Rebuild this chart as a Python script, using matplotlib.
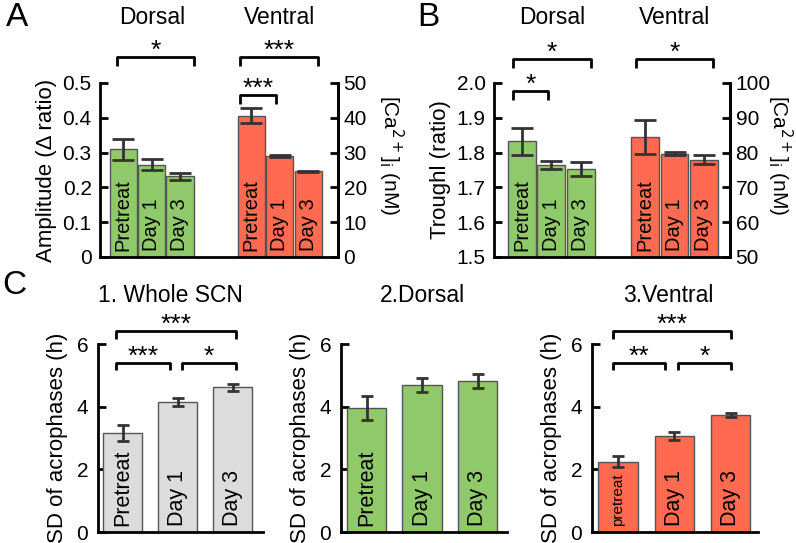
import numpy as np
import matplotlib.pyplot as plt

plt.rcParams['font.family'] = ['Liberation Sans', 'DejaVu Sans']

# data
groups = ['Pretreat', 'Day 1', 'Day 3']

amp_dorsal = [0.310, 0.265, 0.232]
amp_dorsal_err = [0.030, 0.016, 0.010]
amp_ventral = [0.406, 0.290, 0.246]
amp_ventral_err = [0.022, 0.002, 0.002]

tr_dorsal = [1.832, 1.765, 1.754]
tr_dorsal_err = [0.038, 0.011, 0.020]
tr_ventral = [1.845, 1.797, 1.780]
tr_ventral_err = [0.048, 0.004, 0.014]

sd_whole = [3.15, 4.15, 4.62]
sd_whole_err = [0.25, 0.13, 0.11]
sd_dorsal = [3.95, 4.70, 4.82]
sd_dorsal_err = [0.38, 0.22, 0.22]
sd_ventral = [2.25, 3.07, 3.73]
sd_ventral_err = [0.18, 0.13, 0.07]

GREEN = '#8fc96a'
RED = '#ff6a50'
GRAY = '#dcdcdc'
EDGE = '#555555'
ERR = '#333333'

W, H = 796, 543
fig = plt.figure(figsize=(W/100, H/100), dpi=100)

def box(l, r, b, t):
    # pixel box -> figure fraction
    return [l/W, 1-b/H, (r-l)/W, (b-t)/H]

def style(ax, right=False, pad=6):
    ax.spines['top'].set_visible(False)
    if not right:
        ax.spines['right'].set_visible(False)
    for s in ax.spines.values():
        s.set_linewidth(2)
    ax.tick_params(axis='y', direction='in', length=6, width=2, labelsize=15, pad=pad)
    ax.set_xticks([])

def bars(ax, x, vals, errs, color, width, capsize, labels, sizes):
    ax.bar(x, vals, width, color=color, edgecolor=EDGE, linewidth=1, zorder=2)
    ax.errorbar(x, vals, yerr=errs, fmt='none', ecolor=ERR, elinewidth=2,
                capsize=capsize, capthick=2, zorder=3)
    for xi, lab, f in zip(x, labels, sizes):
        ax.annotate(lab, (xi, ax.get_ylim()[0]), xytext=(0, 4), textcoords='offset points',
                    rotation=90, ha='center', va='bottom', fontsize=f, zorder=4)

def bracket(ax, x0, x1, y, leg, stars, fs=19):
    ax.plot([x0, x0, x1, x1], [y-leg, y, y, y-leg], color='black', lw=2,
            clip_on=False, solid_capstyle='butt')
    ax.annotate(stars, ((x0+x1)/2, y), xytext=(0, -4), textcoords='offset points',
                ha='center', va='bottom', fontsize=fs, annotation_clip=False)

def right_axis(ax, lo, hi, ticks, label_x):
    ax2 = ax.twinx()
    ax2.set_ylim(lo, hi)
    ax2.spines['top'].set_visible(False)
    ax2.spines['left'].set_visible(False)
    ax2.spines['right'].set_linewidth(2)
    ax2.tick_params(axis='y', direction='in', length=6, width=2, labelsize=15, pad=4)
    ax2.set_yticks(ticks)
    fig.text(label_x/W, 1-155/H, '[Ca$^{2+}$]$_{\\rm i}$ (nM)', fontsize=15,
             rotation=-90, ha='center', va='center')
    return ax2

# ---------- A ----------
axA = fig.add_axes(box(100, 338, 257, 83))
axA.set_xlim(-0.81, 7.55)
axA.set_ylim(0, 0.5)
xd = np.array([0, 1, 2])
xv = np.array([4.5, 5.5, 6.5])
bars(axA, xd, amp_dorsal, amp_dorsal_err, GREEN, 0.95, 8, groups, [14.5]*3)
bars(axA, xv, amp_ventral, amp_ventral_err, RED, 0.95, 8, groups, [14.5]*3)
style(axA, right=True)
axA.set_yticks([0, 0.1, 0.2, 0.3, 0.4, 0.5])
axA.set_yticklabels(['0', '0.1', '0.2', '0.3', '0.4', '0.5'])
axA.set_ylabel('Amplitude (Δ ratio)', fontsize=16, labelpad=4)
right_axis(axA, 0, 50, [0, 10, 20, 30, 40, 50], 391)
bracket(axA, -0.21, 2.49, 0.575, 0.026, '*')
bracket(axA, 4.11, 6.85, 0.575, 0.026, '***')
bracket(axA, 4.11, 5.38, 0.466, 0.026, '***')
fig.text(152/W, 1-17/H, 'Dorsal', ha='center', va='center', fontsize=16.5)
fig.text(280/W, 1-17/H, 'Ventral', ha='center', va='center', fontsize=16.5)
fig.text(17/W, 1-17/H, 'A', ha='center', va='center', fontsize=24)

# ---------- B ----------
axB = fig.add_axes(box(494, 730, 257, 83))
axB.set_xlim(-0.95, 7.09)
axB.set_ylim(1.5, 2.0)
xd = np.array([0, 1, 2])
xv = np.array([4.2, 5.2, 6.2])
bars(axB, xd, tr_dorsal, tr_dorsal_err, GREEN, 0.95, 8, groups, [14.5]*3)
bars(axB, xv, tr_ventral, tr_ventral_err, RED, 0.95, 8, groups, [14.5]*3)
style(axB, right=True)
axB.set_yticks([1.5, 1.6, 1.7, 1.8, 1.9, 2.0])
axB.set_yticklabels(['1.5', '1.6', '1.7', '1.8', '1.9', '2.0'])
axB.set_ylabel('Troughl (ratio)', fontsize=16, labelpad=4)
right_axis(axB, 50, 100, [50, 60, 70, 80, 90, 100], 780)
bracket(axB, -0.31, 2.35, 2.069, 0.026, '*')
bracket(axB, -0.31, 0.89, 1.977, 0.026, '*')
bracket(axB, 3.88, 6.51, 2.069, 0.026, '*')
fig.text(552/W, 1-17/H, 'Dorsal', ha='center', va='center', fontsize=16.5)
fig.text(675/W, 1-17/H, 'Ventral', ha='center', va='center', fontsize=16.5)
fig.text(428/W, 1-17/H, 'B', ha='center', va='center', fontsize=24)

# ---------- C ----------
x3 = np.array([0, 1, 2])
c_boxes = [(98, 263, -0.445, 2.55), (341, 507, -0.46, 2.53), (592, 758, -0.47, 2.49)]
c_data = [(sd_whole, sd_whole_err, GRAY), (sd_dorsal, sd_dorsal_err, GREEN),
          (sd_ventral, sd_ventral_err, RED)]
c_titles = [('1. Whole SCN', 170), ('2.Dorsal', 422), ('3.Ventral', 668)]
axC = []
for (l, r, x0, x1), (v, e, c), (t, tx) in zip(c_boxes, c_data, c_titles):
    ax = fig.add_axes(box(l, r, 532, 344))
    ax.set_xlim(x0, x1)
    ax.set_ylim(0, 6)
    labs = groups if c != RED else ['pretreat', 'Day 1', 'Day 3']
    sizes = [15.5]*3 if c != RED else [11, 15.5, 15.5]
    bars(ax, x3, v, e, c, 0.71, 4.5, labs, sizes)
    style(ax, pad=7)
    ax.set_yticks([0, 2, 4, 6])
    ax.set_ylabel('SD of acrophases (h)', fontsize=16, labelpad=6)
    fig.text(tx/W, 1-295/H, t, ha='center', va='center', fontsize=16.5)
    axC.append(ax)

bracket(axC[0], -0.12, 2.06, 6.42, 0.27, '***')
bracket(axC[0], -0.12, 0.86, 5.39, 0.23, '***')
bracket(axC[0], 1.08, 2.06, 5.39, 0.23, '*')
bracket(axC[2], -0.10, 2.01, 6.42, 0.27, '***')
bracket(axC[2], -0.10, 0.83, 5.39, 0.23, '**')
bracket(axC[2], 1.06, 2.01, 5.39, 0.23, '*')
fig.text(14/W, 1-286/H, 'C', ha='center', va='center', fontsize=24)

fig.savefig('out.png', dpi=100)
